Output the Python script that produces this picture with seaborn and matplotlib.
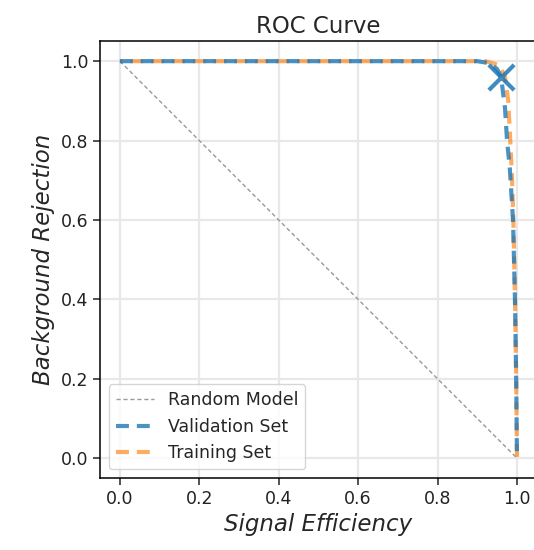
import matplotlib
matplotlib.use("Agg")
import matplotlib.pyplot as plt
import seaborn as sns

# ROC points
val_eff = [0.0, 0.90, 0.93, 0.95, 0.96, 0.97, 0.975, 0.982, 0.99, 0.995, 0.998, 1.0]
val_rej = [1.0, 1.0, 0.995, 0.98, 0.96, 0.88, 0.80, 0.73, 0.60, 0.40, 0.20, 0.0]
train_eff = [0.0, 0.92, 0.955, 0.97, 0.978, 0.983, 0.987, 0.991, 0.995, 0.998, 1.0]
train_rej = [1.0, 1.0, 0.99, 0.96, 0.90, 0.80, 0.72, 0.60, 0.40, 0.20, 0.0]
rand_eff = [0.0, 1.0]
rand_rej = [1.0, 0.0]
wp_eff = [0.961]
wp_rej = [0.96]

sns.set_style("ticks")
plt.rcParams['font.family'] = ['DejaVu Sans']

fig = plt.figure(figsize=(5.34, 5.5), dpi=100)
ax = fig.add_axes([0.1873, 0.1309, 0.818, 0.794])

sns.lineplot(x=rand_eff, y=rand_rej, ax=ax, color='#999999', lw=1.0,
             linestyle='--', label='Random Model', zorder=2)
sns.lineplot(x=val_eff, y=val_rej, ax=ax, color='C0', alpha=0.8, lw=3,
             linestyle='--', sort=False, estimator=None,
             label='Validation Set', zorder=4)
sns.lineplot(x=train_eff, y=train_rej, ax=ax, color='C1', alpha=0.65, lw=3,
             linestyle='--', sort=False, estimator=None,
             label='Training Set', zorder=3)
sns.scatterplot(x=wp_eff, y=wp_rej, ax=ax, marker='x', s=330, color='C0',
                alpha=0.85, linewidth=3, zorder=5)

lines = ax.get_lines()
lines[0].set_linestyle((0, (3, 2)))
lines[1].set_linestyle((0, (3.1, 1.9)))
lines[2].set_linestyle((2.5, (3.1, 1.9)))

ax.set_xlim(-0.05, 1.05)
ax.set_ylim(-0.05, 1.05)
ax.set_xticks([0.0, 0.2, 0.4, 0.6, 0.8, 1.0])
ax.set_yticks([0.0, 0.2, 0.4, 0.6, 0.8, 1.0])
ax.grid(True, color='#e8e8e8', lw=1.6)
ax.set_axisbelow(True)
ax.tick_params(labelsize=12.5, length=5, width=1.1, colors='#222222')
for s in ax.spines.values():
    s.set_color('black')
    s.set_linewidth(1.1)
ax.spines['right'].set_visible(False)

ax.set_title('ROC Curve', fontsize=16.5)
ax.set_xlabel('Signal Efficiency', fontsize=16.5, fontstyle='italic')
ax.set_ylabel('Background Rejection', fontsize=16.5, fontstyle='italic')

leg = ax.legend(loc='lower left', fontsize=12.5, handlelength=2.2, framealpha=0.8)
leg.get_lines()[0].set_linestyle((0, (3, 2)))
leg.get_lines()[1].set_linestyle((0, (3.1, 1.9)))
leg.get_lines()[2].set_linestyle((0, (3.1, 1.9)))

fig.savefig('out.png', dpi=100)
